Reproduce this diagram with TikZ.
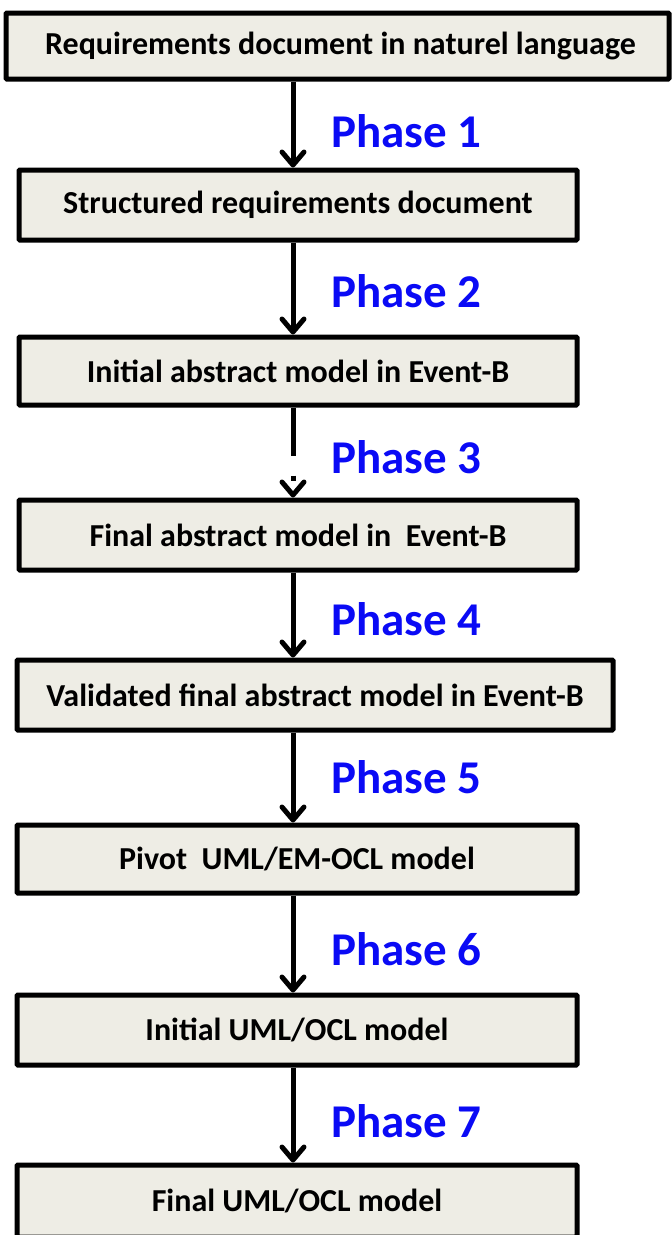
\documentclass[tikz,border=0pt]{standalone}
\usepackage{fontspec}
\setmainfont{Carlito}
\usetikzlibrary{arrows.meta}
\definecolor{boxfill}{RGB}{238,237,229}
\definecolor{phaseblue}{RGB}{10,10,245}
\tikzset{
  stage/.style={draw=black, line width=5pt, fill=boxfill, rounded corners=1pt,
    minimum height=#1, inner sep=0pt, font=\fontsize{32}{37}\selectfont\bfseries},
  stage/.default=68pt,
  flow/.style={line width=5pt, -{Straight Barb[length=13pt,width=22pt,line cap=round,line join=round]}},
  phase/.style={anchor=base west, inner sep=0pt, text=phaseblue,
    font=\fontsize{47}{52}\selectfont\bfseries}
}
\begin{document}
\begin{tikzpicture}[x=1pt,y=-1pt]
\useasboundingbox (0,0) rectangle (672,1235);
% processing stages, top to bottom
\node[stage=66pt, minimum width=663pt] (b1) at (337.5,46) {\hspace*{6pt}Requirements document in naturel language};
\node[stage=70pt, minimum width=558pt] (b2) at (298,205) {Structured requirements document};
\node[stage=68pt, minimum width=558pt] (b3) at (298,371) {Initial abstract model in Event-B};
\node[stage=70pt, minimum width=558pt] (b4) at (298,535) {Final abstract model in~~Event-B};
\node[stage=70pt, minimum width=596pt] (b5) at (315,695) {Validated final abstract model in Event-B};
\node[stage=68pt, minimum width=560pt] (b6) at (297,859) {Pivot~~UML/EM-OCL model};
\node[stage=70pt, minimum width=560pt] (b7) at (297,1030) {Initial UML/OCL model};
\node[stage=72pt, minimum width=560pt] (b8) at (297,1201) {Final UML/OCL model};
% common axis of the connectors
\coordinate (ax) at (293,0);
\draw[flow] (b1.south -| ax) -- (b2.north -| ax);
\draw[flow] (b2.south -| ax) -- (b3.north -| ax);
\draw[flow, dash pattern=on 48pt off 20pt on 5pt off 30pt] (b3.south -| ax) -- (b4.north -| ax);
\draw[flow] (b4.south -| ax) -- (b5.north -| ax);
\draw[flow] (b5.south -| ax) -- (b6.north -| ax);
\draw[flow] (b6.south -| ax) -- (b7.north -| ax);
\draw[flow] (b7.south -| ax) -- (b8.north -| ax);
% phase labels
\node[phase] (p1) at (331,147) {Phase 1};
\node[phase] (p2) at (331,307) {Phase 2};
\node[phase] (p3) at (331,473) {Phase 3};
\node[phase] (p4) at (331,635) {Phase 4};
\node[phase] (p5) at (331,793) {Phase 5};
\node[phase] (p6) at (331,965) {Phase 6};
\node[phase] (p7) at (331,1137) {Phase 7};
\end{tikzpicture}
\end{document}
